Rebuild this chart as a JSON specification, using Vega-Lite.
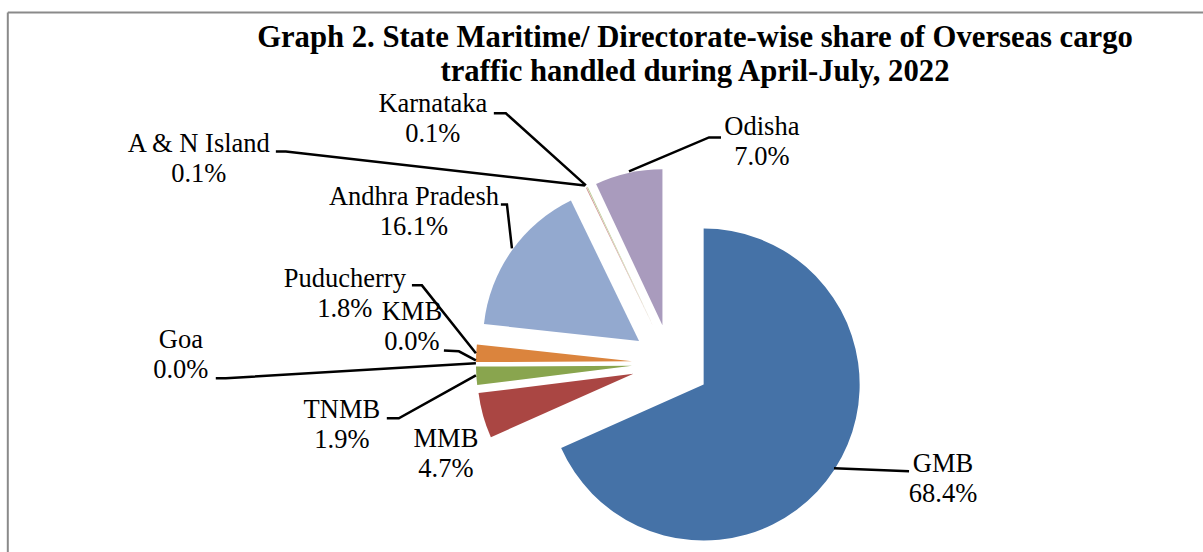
{
  "$schema": "https://vega.github.io/schema/vega-lite/v6.json",
  "autosize": {"type": "none"},
  "padding": 0,
  "width": 1203,
  "height": 552,
  "background": "white",
  "config": {"view": {"stroke": null}},
  "title": {
    "text": ["Graph 2. State Maritime/ Directorate-wise share of Overseas cargo", "traffic handled during April-July, 2022"],
    "font": "Liberation Serif",
    "fontSize": 30.7,
    "fontWeight": "bold",
    "lineHeight": 34,
    "color": "black",
    "anchor": "middle",
    "frame": "group",
    "baseline": "top",
    "dx": 93.5,
    "offset": -88
  },
  "datasets": {
    "frame": [{"part": "border"}],
    "shares": [
      {"idx": 1, "name": "GMB", "share": 68.4},
      {"idx": 2, "name": "MMB", "share": 4.7},
      {"idx": 3, "name": "TNMB", "share": 1.9},
      {"idx": 4, "name": "Goa", "share": 0.0},
      {"idx": 5, "name": "KMB", "share": 0.0},
      {"idx": 6, "name": "Puducherry", "share": 1.8},
      {"idx": 7, "name": "Andhra Pradesh", "share": 16.1},
      {"idx": 8, "name": "A & N Island", "share": 0.1},
      {"idx": 9, "name": "Karnataka", "share": 0.1},
      {"idx": 10, "name": "Odisha", "share": 7.0}
    ],
    "labels": [
      {"name": "GMB", "lx": 174.4, "ly": -69.9},
      {"name": "MMB", "lx": -144.2, "ly": -53.8},
      {"name": "TNMB", "lx": -210.9, "ly": -35.3},
      {"name": "Goa", "lx": -314.1, "ly": 9.6},
      {"name": "KMB", "lx": -166.0, "ly": 27.6},
      {"name": "Puducherry", "lx": -209.0, "ly": 48.7},
      {"name": "Andhra Pradesh", "lx": -164.7, "ly": 101.3},
      {"name": "A & N Island", "lx": -302.6, "ly": 135.3},
      {"name": "Karnataka", "lx": -152.6, "ly": 160.9},
      {"name": "Odisha", "lx": 58.3, "ly": 146.2}
    ],
    "leaders": [
      {"name": "Karnataka", "k": 1, "lx": -113.5, "ly": 160.3},
      {"name": "Karnataka", "k": 2, "lx": -105.8, "ly": 160.3},
      {"name": "Karnataka", "k": 3, "lx": -54.5, "ly": 114.1},
      {"name": "A & N Island", "k": 1, "lx": -253.2, "ly": 135.9},
      {"name": "A & N Island", "k": 2, "lx": -246.8, "ly": 135.9},
      {"name": "A & N Island", "k": 3, "lx": -55.1, "ly": 114.1},
      {"name": "Andhra Pradesh", "k": 1, "lx": -109.0, "ly": 101.9},
      {"name": "Andhra Pradesh", "k": 2, "lx": -105.1, "ly": 101.9},
      {"name": "Andhra Pradesh", "k": 3, "lx": -101.9, "ly": 73.7},
      {"name": "Odisha", "k": 1, "lx": 32.1, "ly": 144.9},
      {"name": "Odisha", "k": 2, "lx": 24.4, "ly": 144.9},
      {"name": "Odisha", "k": 3, "lx": -26.9, "ly": 123.1},
      {"name": "Puducherry", "k": 1, "lx": -166.0, "ly": 50.0},
      {"name": "Puducherry", "k": 2, "lx": -159.6, "ly": 50.0},
      {"name": "Puducherry", "k": 3, "lx": -125.0, "ly": 6.4},
      {"name": "KMB", "k": 1, "lx": -145.5, "ly": 8.3},
      {"name": "KMB", "k": 2, "lx": -135.9, "ly": 7.7},
      {"name": "KMB", "k": 3, "lx": -125.0, "ly": 1.9},
      {"name": "Goa", "k": 1, "lx": -291.7, "ly": -9.6},
      {"name": "Goa", "k": 2, "lx": -285.3, "ly": -9.6},
      {"name": "Goa", "k": 3, "lx": -125.0, "ly": 0.0},
      {"name": "TNMB", "k": 1, "lx": -182.1, "ly": -35.3},
      {"name": "TNMB", "k": 2, "lx": -174.4, "ly": -35.3},
      {"name": "TNMB", "k": 3, "lx": -125.0, "ly": -7.7},
      {"name": "GMB", "k": 1, "lx": 152.6, "ly": -69.2},
      {"name": "GMB", "k": 2, "lx": 104.5, "ly": -67.3}
    ]
  },
  "layer": [
    {
      "data": {"name": "frame"},
      "mark": {"type": "rule", "color": "#8a8a8a", "strokeWidth": 2},
      "encoding": {
        "x": {"datum": -425, "type": "quantitative", "scale": {"domain": [-430, 341], "nice": false, "zero": false}, "axis": null},
        "x2": {"datum": 341},
        "y": {"datum": 225, "type": "quantitative", "scale": {"domain": [-121, 233], "nice": false, "zero": false}, "axis": null}
      }
    },
    {
      "data": {"name": "frame"},
      "mark": {"type": "rule", "color": "#8a8a8a", "strokeWidth": 2},
      "encoding": {
        "x": {"datum": -425, "type": "quantitative"},
        "y": {"datum": 225, "type": "quantitative"},
        "y2": {"datum": -121}
      }
    },
    {
      "data": {"name": "shares"},
      "transform": [
        {"joinaggregate": [{"op": "sum", "field": "share", "as": "total"}]},
        {"window": [{"op": "sum", "field": "share", "as": "cum"}], "sort": [{"field": "idx", "order": "ascending"}], "frame": [null, 0]},
        {"calculate": "datum.cum - datum.share", "as": "start"},
        {"calculate": "(datum.cum - datum.share / 2) / datum.total * 2 * PI", "as": "ang"},
        {"calculate": "25 * sin(datum.ang)", "as": "ox"},
        {"calculate": "25 * cos(datum.ang)", "as": "oy"}
      ],
      "mark": {"type": "arc", "radius": 156},
      "encoding": {
        "theta": {"field": "start", "type": "quantitative", "stack": null, "scale": {"domain": [0, 100.1]}},
        "theta2": {"field": "cum"},
        "x": {"field": "ox", "type": "quantitative"},
        "y": {"field": "oy", "type": "quantitative"},
        "color": {
          "field": "name",
          "type": "nominal",
          "scale": {
            "domain": ["GMB", "MMB", "TNMB", "Goa", "KMB", "Puducherry", "Andhra Pradesh", "A & N Island", "Karnataka", "Odisha"],
            "range": ["#4572A7", "#AA4643", "#89A54E", "#71588F", "#4198AF", "#DB843D", "#93A9CF", "#D19392", "#B9CD96", "#A99BBD"]
          },
          "legend": null
        }
      }
    },
    {
      "data": {"name": "leaders"},
      "mark": {"type": "line", "color": "black", "strokeWidth": 2.5},
      "encoding": {
        "x": {"field": "lx", "type": "quantitative"},
        "y": {"field": "ly", "type": "quantitative"},
        "detail": {"field": "name"},
        "order": {"field": "k", "type": "quantitative"}
      }
    },
    {
      "data": {"name": "shares"},
      "transform": [
        {"lookup": "name", "from": {"data": {"name": "labels"}, "key": "name", "fields": ["lx", "ly"]}},
        {"calculate": "[datum.name, format(datum.share, '.1f') + '%']", "as": "label"}
      ],
      "mark": {"type": "text", "font": "Liberation Serif", "fontSize": 26.5, "lineHeight": 30, "align": "center", "baseline": "alphabetic", "color": "black"},
      "encoding": {
        "x": {"field": "lx", "type": "quantitative"},
        "y": {"field": "ly", "type": "quantitative"},
        "text": {"field": "label"}
      }
    }
  ]
}
